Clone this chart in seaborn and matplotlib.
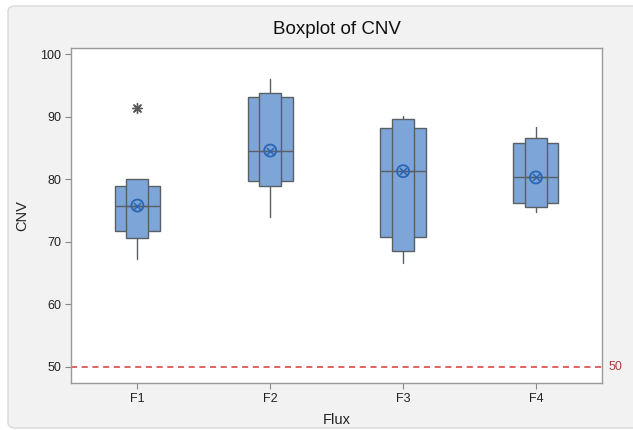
import matplotlib
matplotlib.use("Agg")
import matplotlib.pyplot as plt
import matplotlib.transforms as mtransforms
from matplotlib.patches import FancyBboxPatch
import seaborn as sns
import pandas as pd

# ---- data ----
groups = ["F1", "F2", "F3", "F4"]
q1 = [71.7, 79.7, 70.8, 76.15]
median = [75.8, 84.6, 81.3, 80.35]
q3 = [78.9, 93.2, 88.25, 85.85]
whisker_low = [67.2, 74.0, 66.55, 74.8]
whisker_high = [78.9, 96.05, 90.1, 88.3]
ci_low = [70.55, 78.9, 68.5, 75.6]
ci_high = [80.0, 93.75, 89.65, 86.55]
means = [75.8, 84.6, 81.3, 80.3]
outliers = [[91.4], [], [], []]
ref_value = 50
y_ticks = [50, 60, 70, 80, 90, 100]

sns.set_style("white")
plt.rcParams["font.family"] = ["Liberation Sans", "DejaVu Sans"]

fig = plt.figure(figsize=(6.33, 4.30), dpi=100)
fig.patch.set_facecolor("white")
panel = FancyBboxPatch((8 / 633, 2 / 430), 640 / 633, 422 / 430,
                       boxstyle="round,pad=0,rounding_size=0.012",
                       transform=fig.transFigure, facecolor="#f2f2f2",
                       edgecolor="#d9d9d9", linewidth=1.0, zorder=-10)
fig.patches.append(panel)

ax = fig.add_axes([71 / 633, 1 - 383.3 / 430, (602.3 - 71) / 633, (383.3 - 48.3) / 430])
ax.set_facecolor("white")

positions = list(range(1, len(groups) + 1))
box_color = "#7da5d7"
edge_color = "#5a5f66"

wide_stats = []
narrow_stats = []
for i, g in enumerate(groups):
    wide_stats.append(dict(label=g, q1=q1[i], med=median[i], q3=q3[i],
                           whislo=whisker_low[i], whishi=whisker_high[i],
                           fliers=[]))
    narrow_stats.append(dict(label=g, q1=ci_low[i], med=median[i], q3=ci_high[i],
                             whislo=ci_low[i], whishi=ci_high[i], fliers=[]))

common = dict(positions=positions, patch_artist=True, showfliers=False, showcaps=False,
              boxprops=dict(facecolor=box_color, edgecolor=edge_color, linewidth=1.0),
              whiskerprops=dict(color=edge_color, linewidth=1.0),
              medianprops=dict(color=edge_color, linewidth=1.0))
ax.bxp(wide_stats, widths=0.34, **common)
ax.bxp(narrow_stats, widths=0.166, **common)

# mean markers
mean_df = pd.DataFrame({"pos": positions, "mean": means})
mean_color = "#2a66b4"
sns.scatterplot(data=mean_df, x="pos", y="mean", ax=ax, marker="o", s=75,
                facecolor="none", edgecolor=mean_color, linewidth=1.3, zorder=5)
sns.scatterplot(data=mean_df, x="pos", y="mean", ax=ax, marker="x", s=26,
                color=mean_color, linewidth=1.1, zorder=6)

# outliers
out_x, out_y = [], []
for i, vals in enumerate(outliers):
    for v in vals:
        out_x.append(positions[i])
        out_y.append(v)
if out_x:
    sns.scatterplot(x=out_x, y=out_y, ax=ax, marker=(8, 2, 0), s=50,
                    color="#5a5a5a", linewidth=1.0, zorder=5)

# reference line
ax.axhline(ref_value, color="#d9383a", linestyle=(0, (4, 3)), linewidth=1.1, zorder=1)
trans = mtransforms.blended_transform_factory(ax.transAxes, ax.transData)
ax.text(1.012, ref_value, str(ref_value), transform=trans, color="#a8403c",
        fontsize=9, va="center", ha="left")

ax.set_xlim(0.5, 4.5)
ax.set_ylim(47.35, 100.97)
ax.set_yticks(y_ticks)
ax.set_yticklabels([str(t) for t in y_ticks])
ax.set_xticks(positions)
ax.set_xticklabels(groups)
ax.tick_params(axis="both", direction="out", length=4, width=0.8, color="#888888",
               labelsize=9, labelcolor="#222222", pad=3, left=True, bottom=True)
for s in ax.spines.values():
    s.set_color("#999999")
    s.set_linewidth(1.0)

ax.set_xlabel("Flux", fontsize=10.5, color="#222222", labelpad=6)
ax.set_ylabel("CNV", fontsize=10.5, color="#222222", labelpad=8)
fig.text((71 + 602.3) / 2 / 633, 1 - 30 / 430, "Boxplot of CNV", ha="center",
         va="center", fontsize=13.5, color="#111111")

fig.savefig("out.png", dpi=100, facecolor=fig.get_facecolor())
